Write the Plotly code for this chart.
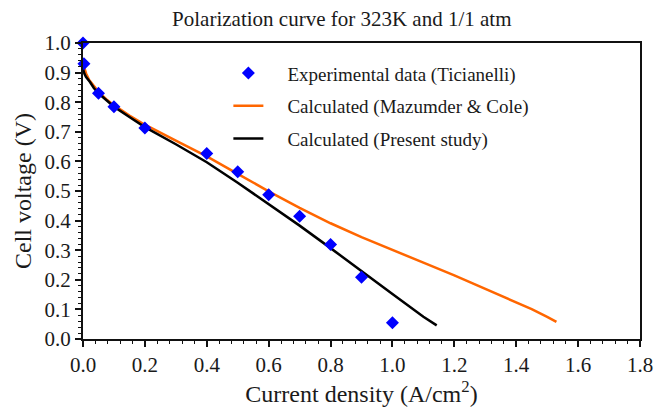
import plotly.graph_objects as go

# Experimental polarization data (Ticianelli), 323 K, 1/1 atm
exp_current = [0.0, 0.003, 0.05, 0.10, 0.20, 0.40, 0.50, 0.60, 0.70, 0.80, 0.90, 1.00]
exp_voltage = [1.0, 0.93, 0.83, 0.785, 0.713, 0.627, 0.565, 0.487, 0.415, 0.319, 0.209, 0.055]

# Model curve from Mazumder & Cole
mc_current = [0.0, 0.002, 0.005, 0.01, 0.02, 0.035, 0.05, 0.075, 0.10, 0.15, 0.20, 0.30, 0.40,
              0.50, 0.60, 0.70, 0.80, 0.90, 1.00, 1.10, 1.20, 1.30, 1.35, 1.40, 1.45, 1.50, 1.53]
mc_voltage = [0.93, 0.922, 0.912, 0.897, 0.875, 0.853, 0.835, 0.81, 0.79, 0.755, 0.724, 0.67, 0.617,
              0.558, 0.499, 0.443, 0.391, 0.344, 0.30, 0.258, 0.215, 0.17, 0.148, 0.125, 0.101, 0.075, 0.058]

# Model curve from the present study
ps_current = [0.0, 0.001, 0.005, 0.01, 0.022, 0.035, 0.05, 0.075, 0.10, 0.15, 0.20, 0.30, 0.40,
              0.50, 0.60, 0.70, 0.80, 0.90, 1.00, 1.10, 1.143]
ps_voltage = [0.93, 0.908, 0.895, 0.885, 0.869, 0.848, 0.83, 0.806, 0.785, 0.75, 0.716, 0.658, 0.597,
              0.528, 0.457, 0.383, 0.307, 0.228, 0.152, 0.075, 0.046]

x_ticks = [0.0, 0.2, 0.4, 0.6, 0.8, 1.0, 1.2, 1.4, 1.6, 1.8]
y_ticks = [0.0, 0.1, 0.2, 0.3, 0.4, 0.5, 0.6, 0.7, 0.8, 0.9, 1.0]

SERIF = "Liberation Serif, Times New Roman, serif"
NB = "\u00a0" * 4

fig = go.Figure()
fig.add_trace(go.Scatter(
    x=mc_current, y=mc_voltage, mode="lines",
    name=NB + "Calculated (Mazumder & Cole)",
    line=dict(color="#ff6600", width=2.5),
    legendgroup="b", legendrank=2,
))
fig.add_trace(go.Scatter(
    x=ps_current, y=ps_voltage, mode="lines",
    name=NB + "Calculated (Present study)",
    line=dict(color="#000000", width=2.5),
    legendgroup="c", legendrank=3,
))
# data markers drawn last so they sit on top of the curves
fig.add_trace(go.Scatter(
    x=exp_current, y=exp_voltage, mode="markers",
    name=NB + "Experimental data (Ticianelli)",
    marker=dict(symbol="diamond", size=10, color="#0000ff", line=dict(width=0)),
    cliponaxis=False, legendgroup="a", legendrank=1,
))

axis_common = dict(
    showline=True, linewidth=2, linecolor="#111111", mirror=True,
    ticks="outside", ticklen=6, tickwidth=1.5, tickcolor="#111111",
    showgrid=False, zeroline=False,
    tickfont=dict(family=SERIF, size=21, color="#1a1a1a"),
)

fig.update_layout(
    width=665, height=410,
    margin=dict(l=83, r=18, t=43, b=68),
    paper_bgcolor="white", plot_bgcolor="white",
    title=dict(
        text="Polarization curve for 323K and 1/1 atm",
        font=dict(family=SERIF, size=21, color="#1a1a1a"),
        x=0.514, xref="container", xanchor="center",
        y=0.955, yref="container", yanchor="middle",
    ),
    xaxis=dict(
        range=[0, 1.8], tickvals=x_ticks, ticktext=[f"{v:.1f}" for v in x_ticks],
        minor=dict(dtick=0.04, ticks="outside", ticklen=3, tickwidth=1.2, tickcolor="#111111"),
        title=dict(text="Current density (A/cm<sup>2</sup>)",
                   font=dict(family=SERIF, size=24, color="#1a1a1a"), standoff=4),
        **axis_common,
    ),
    yaxis=dict(
        range=[0, 1.0], tickvals=y_ticks, ticktext=[f"{v:.1f}" for v in y_ticks],
        minor=dict(dtick=0.02, ticks="outside", ticklen=3, tickwidth=1.2, tickcolor="#111111"),
        title=dict(text="Cell voltage (V)",
                   font=dict(family=SERIF, size=24, color="#1a1a1a"), standoff=6),
        **axis_common,
    ),
    legend=dict(
        x=0.261, xref="paper", xanchor="left",
        y=0.962, yref="paper", yanchor="top",
        bgcolor="rgba(0,0,0,0)", borderwidth=0,
        font=dict(family=SERIF, size=19, color="#1a1a1a"),
        traceorder="grouped", tracegroupgap=5,
    ),
    showlegend=True,
)

fig.write_html("out.html")
